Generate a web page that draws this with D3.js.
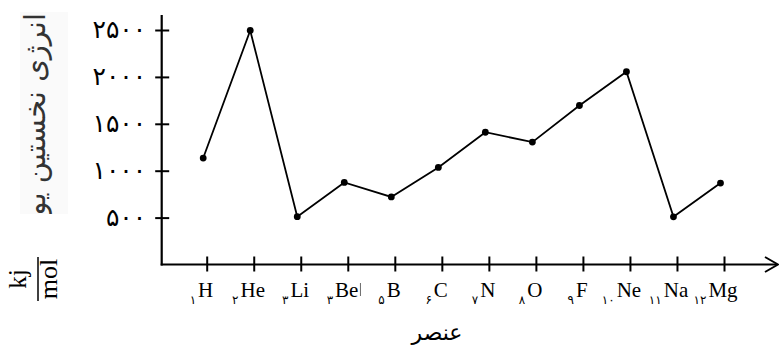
<!DOCTYPE html>
<html>
<head>
<meta charset="utf-8">
<script src="https://cdn.jsdelivr.net/npm/d3@7"></script>
<style>
  body { margin: 0; background: #fff; }
  svg { display: block; }
</style>
</head>
<body>
<div id="wrapper"></div>
<script>
// element symbols along the x axis
const elements = ["H", "He", "Li", "Be", "B", "C", "N", "O", "F", "Ne", "Na", "Mg"];
// atomic numbers as printed (Persian digits)
const atomicNumbers = ["۱", "۲", "۳", "۳", "۵", "۶", "۷", "۸", "۹", "۱۰", "۱۱", "۱۲"];
// first ionisation energy (kJ/mol)
const energies = [1135, 2495, 510, 875, 720, 1035, 1410, 1305, 1695, 2055, 508, 868];
const yTickValues = [500, 1000, 1500, 2000, 2500];
const yTickLabels = ["۵۰۰", "۱۰۰۰", "۱۵۰۰", "۲۰۰۰", "۲۵۰۰"];
const yTitle = "انرژی نخستین یونش";
const xTitle = "عنصر";

const dimensions = {
    width: 779,
    height: 353,
    axisX: 161.7,
    top: 15,
    arrowEnd: 778
};

const svg = d3.select('#wrapper')
    .append('svg')
    .attr('width', dimensions.width)
    .attr('height', dimensions.height);

const xScale = d3.scalePoint()
    .domain(elements)
    .range([206.7, 724]);

const yScale = d3.scaleLinear()
    .domain([0, 2500])
    .range([264.5, 30]);

const baseY = yScale(0);

// y axis
const yAxisGenerator = d3.axisLeft(yScale)
    .tickValues(yTickValues)
    .tickSize(6.5)
    .tickPadding(9)
    .tickFormat((d, i) => yTickLabels[i]);

const yAxis = svg.append('g')
    .attr('transform', `translate(${dimensions.axisX},0)`)
    .call(yAxisGenerator);
yAxis.select('.domain').remove();
yAxis.selectAll('.tick line')
    .attr('x1', 7.5)
    .attr('stroke', '#000')
    .attr('stroke-width', 2);
yAxis.selectAll('.tick text')
    .attr('font-family', 'DejaVu Sans, sans-serif')
    .attr('font-size', 25)
    .attr('fill', '#000')
    .attr('dy', '0.3em');

svg.append('line')
    .attr('x1', dimensions.axisX).attr('x2', dimensions.axisX)
    .attr('y1', dimensions.top).attr('y2', baseY + 1)
    .attr('stroke', '#000')
    .attr('stroke-width', 2.2);

// x axis
const xAxisGenerator = d3.axisBottom(xScale)
    .tickSize(7)
    .tickFormat('');

const xAxis = svg.append('g')
    .attr('transform', `translate(0,${baseY})`)
    .call(xAxisGenerator);
xAxis.select('.domain').remove();
xAxis.selectAll('.tick line')
    .attr('y1', -8)
    .attr('stroke', '#000')
    .attr('stroke-width', 2);

svg.append('line')
    .attr('x1', dimensions.axisX - 1).attr('x2', dimensions.arrowEnd - 1)
    .attr('y1', baseY).attr('y2', baseY)
    .attr('stroke', '#000')
    .attr('stroke-width', 2.2);

svg.append('path')
    .attr('d', `M${dimensions.arrowEnd - 13},${baseY - 7.5} L${dimensions.arrowEnd},${baseY} L${dimensions.arrowEnd - 13},${baseY + 7.5}`)
    .attr('fill', 'none')
    .attr('stroke', '#000')
    .attr('stroke-width', 2);

// element labels with atomic numbers as small subscripts on the left
const labels = svg.append('g');
elements.forEach((el, i) => {
    const cx = xScale(el) - 1;
    const sym = labels.append('text')
        .attr('x', cx)
        .attr('y', 297)
        .attr('text-anchor', 'middle')
        .attr('font-family', 'Liberation Serif, serif')
        .attr('font-size', 21)
        .text(el);
    const w = sym.node().getComputedTextLength();
    labels.append('text')
        .attr('x', cx - w / 2 - 2)
        .attr('y', 304)
        .attr('text-anchor', 'end')
        .attr('font-family', 'DejaVu Sans, sans-serif')
        .attr('font-size', 12)
        .text(atomicNumbers[i]);
    if (el === "Be") {
        labels.append('line')
            .attr('x1', cx + w / 2 + 2).attr('x2', cx + w / 2 + 2)
            .attr('y1', 283).attr('y2', 296)
            .attr('stroke', '#444')
            .attr('stroke-width', 0.8);
    }
});

// data line and dots (drawn a little left of the ticks, as in the original)
const marks = svg.append('g')
    .attr('transform', 'translate(-3.5,0)');

const lineGenerator = d3.line()
    .x((d, i) => xScale(elements[i]))
    .y(d => yScale(d));

marks.append('path')
    .attr('d', lineGenerator(energies))
    .attr('fill', 'none')
    .attr('stroke', '#000')
    .attr('stroke-width', 1.8);

marks.selectAll('circle')
    .data(energies)
    .join('circle')
    .attr('cx', (d, i) => xScale(elements[i]))
    .attr('cy', d => yScale(d))
    .attr('r', 3.4)
    .attr('fill', '#000');

// x title
svg.append('text')
    .attr('x', 437)
    .attr('y', 340)
    .attr('text-anchor', 'middle')
    .attr('font-family', 'DejaVu Sans, sans-serif')
    .attr('font-size', 22)
    .text(xTitle);

// y title, clipped like the scanned original
svg.append('clipPath')
    .attr('id', 'ytitle-clip')
    .append('rect')
    .attr('x', 0).attr('y', 0)
    .attr('width', 80).attr('height', 214);

svg.append('rect')
    .attr('x', 20).attr('y', 12)
    .attr('width', 48).attr('height', 202)
    .attr('fill', '#fafafa');

svg.append('g')
    .attr('clip-path', 'url(#ytitle-clip)')
    .append('text')
    .attr('transform', 'translate(35,13) rotate(-90)')
    .attr('text-anchor', 'end')
    .attr('dominant-baseline', 'central')
    .attr('font-family', 'DejaVu Sans, sans-serif')
    .attr('font-size', 29)
    .attr('fill', '#333')
    .text(yTitle);

// unit kj / mol as a rotated fraction
const unit = svg.append('g')
    .attr('transform', 'translate(38,279) rotate(-90)');
unit.append('text')
    .attr('x', 0).attr('y', -12)
    .attr('text-anchor', 'middle')
    .attr('font-family', 'Liberation Serif, serif')
    .attr('font-size', 25)
    .text('kj');
unit.append('line')
    .attr('x1', -22).attr('x2', 22)
    .attr('y1', 0).attr('y2', 0)
    .attr('stroke', '#000')
    .attr('stroke-width', 1.5);
unit.append('text')
    .attr('x', 0).attr('y', 19)
    .attr('text-anchor', 'middle')
    .attr('font-family', 'Liberation Serif, serif')
    .attr('font-size', 26)
    .text('mol');
</script>
</body>
</html>
